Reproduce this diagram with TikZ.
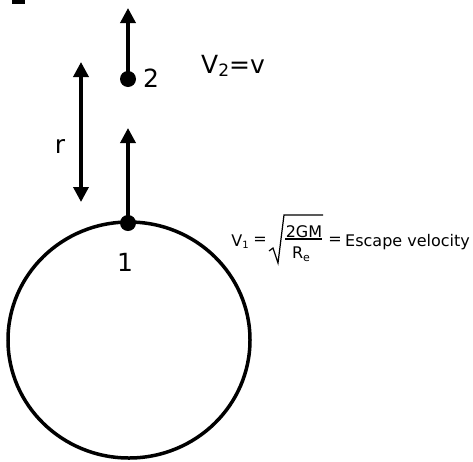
\documentclass[tikz,border=0pt]{standalone}
\usepackage{fontspec}
\setmainfont{DejaVu Sans}
\usetikzlibrary{arrows.meta}
\tikzset{
  vec/.style={line width=3.5pt,-{Triangle[width=15pt,length=15pt]}},
  dvec/.style={line width=3.5pt,{Triangle[width=15pt,length=15pt]}-{Triangle[width=15pt,length=15pt]}},
  dotm/.style={circle,fill=black,inner sep=0pt,minimum size=16pt},
  big/.style={font=\fontsize{25}{25}\selectfont,inner sep=0pt},
  small/.style={font=\fontsize{16}{16}\selectfont,inner sep=0pt},
}
\begin{document}
\begin{tikzpicture}[x=1pt,y=-1pt]
\useasboundingbox (0,0) rectangle (473,461);
% top-left mark
\fill (12,0) rectangle (25,4);
% planet
\draw[line width=3.5pt] (129,340) ellipse [x radius=121, y radius=118];
% points
\node[dotm] (p1) at (128,223) {};
\node[dotm] (p2) at (128,79) {};
\coordinate (t1) at (128,128);
\coordinate (t2) at (128,8);
\coordinate (ra) at (81,62);
\coordinate (rb) at (81,202);
\draw[vec] (p1.center) -- (t1);
\draw[vec] (p2.center) -- (t2);
\draw[dvec] (ra) -- (rb);
% labels
\node[big] (l1) at (125,262) {1};
\node[big] (l2) at (151,78) {2};
\node[big] (lr) at (60,146) {r};
\node[big,anchor=base west] (lv2) at (201,73) {V\raisebox{-0.28ex}{\fontsize{17}{17}\selectfont 2}=v};
% formula
\node[small,anchor=base] (fv1) at (240,246) {V\raisebox{-0.3ex}{\fontsize{10}{10}\selectfont 1}};
\node[small] (feq1) at (260,241) {=};
\draw[line width=1.2pt,line join=miter] (269,251) -- (273,248) -- (278,263) -- (284,215) -- (323,215);
\node[small,anchor=base] (fnum) at (304,237) {2GM};
\draw[line width=1.2pt] (285,239) -- (322,239);
\node[small,anchor=base] (fden) at (301,258) {R\raisebox{-0.35ex}{\fontsize{11}{11}\selectfont e}};
\node[small] (feq2) at (335,241) {=};
\node[small,anchor=base west] (fesc) at (345,246) {Escape velocity};
\end{tikzpicture}
\end{document}
